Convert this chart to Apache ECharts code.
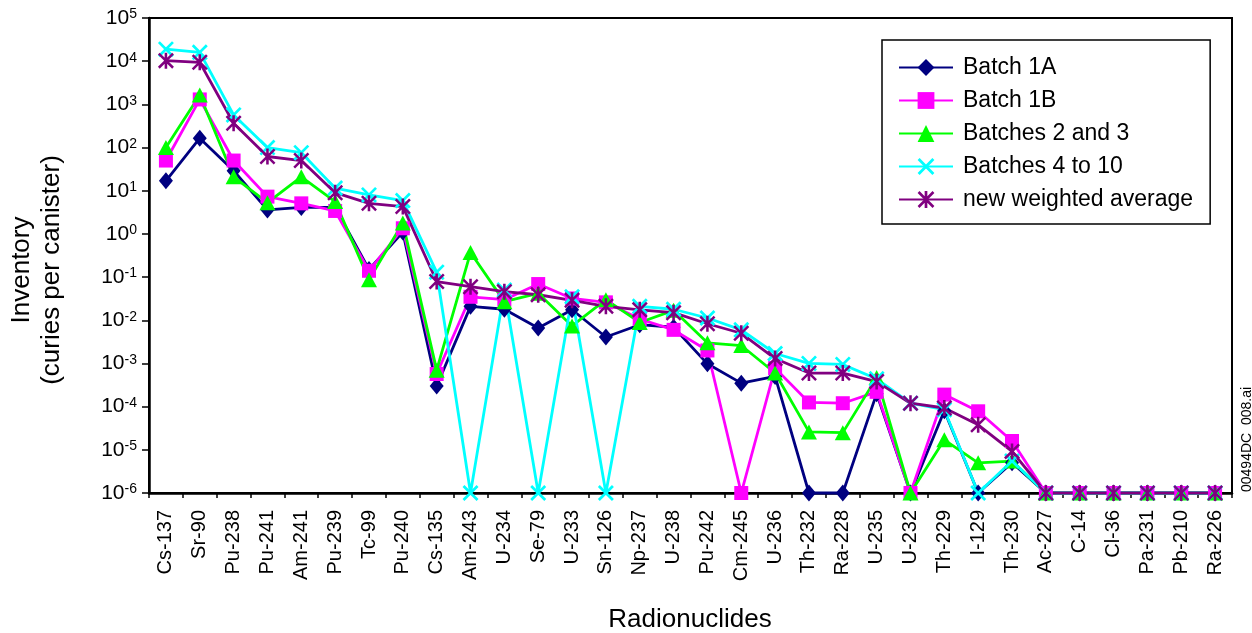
<!DOCTYPE html>
<html>
<head>
<meta charset="utf-8">
<script src="https://cdn.jsdelivr.net/npm/echarts@6/dist/echarts.min.js"></script>
<style>
html,body{margin:0;padding:0;background:#fff;}
#chart{width:1252px;height:633px;}
</style>
</head>
<body>
<div id="chart"></div>
<script>
const categories = ['Cs-137','Sr-90','Pu-238','Pu-241','Am-241','Pu-239','Tc-99','Pu-240','Cs-135','Am-243','U-234','Se-79','U-233','Sn-126','Np-237','U-238','Pu-242','Cm-245','U-236','Th-232','Ra-228','U-235','U-232','Th-229','I-129','Th-230','Ac-227','C-14','Cl-36','Pa-231','Pb-210','Ra-226'];

const batch1A = [17,165,29,3.6,4.1,4.1,0.15,1.1,3.0e-4,0.021,0.018,0.0066,0.0175,0.0041,0.0079,0.0069,0.00098,3.5e-4,5e-4,1e-6,1e-6,2e-4,1e-6,8e-5,1e-6,5e-6,1e-6,1e-6,1e-6,1e-6,1e-6,1e-6];
const batch1B = [50,1300,50,7.3,5.1,3.4,0.14,1.35,5.7e-4,0.035,0.03,0.069,0.032,0.026,0.0107,0.006,0.002,1e-6,7.8e-4,1.25e-4,1.2e-4,2.2e-4,1e-6,1.9e-4,7.8e-5,1.6e-5,1e-6,1e-6,1e-6,1e-6,1e-6,1e-6];
const batches2and3 = [100,1650,21,5.3,21,5.6,0.087,1.8,7e-4,0.37,0.027,0.042,0.0074,0.03,0.0089,0.017,0.003,0.0026,6e-4,2.6e-5,2.5e-5,4.7e-4,1e-6,1.7e-5,5e-6,5.5e-6,1e-6,1e-6,1e-6,1e-6,1e-6,1e-6];
const batches4to10 = [1.9e4,1.6e4,570,100,76,11.5,8,5.9,0.13,1e-6,0.05,1e-6,0.035,1e-6,0.021,0.018,0.0113,0.006,0.0017,1e-3,9.5e-4,4.4e-4,1.2e-4,8.5e-5,1e-6,5.5e-6,1e-6,1e-6,1e-6,1e-6,1e-6,1e-6];
const weightedAvg = [1.03e4,9.4e3,365,62,50,9,5.1,4.3,0.079,0.06,0.046,0.039,0.029,0.021,0.0175,0.015,0.0083,0.005,0.0013,6e-4,6e-4,3.8e-4,1.2e-4,9.3e-5,3.8e-5,9.2e-6,1e-6,1e-6,1e-6,1e-6,1e-6,1e-6];

const seriesNames = ['Batch 1A','Batch 1B','Batches 2 and 3','Batches 4 to 10','new weighted average'];
const yMin = 1e-6, yMax = 1e5;

const FONT = '"Liberation Sans", Arial, Helvetica, sans-serif';
const X_PATH = 'path://M0,12 L12,0 L100,88 L88,100 Z M88,0 L100,12 L12,100 L0,88 Z';
const STAR_PATH = 'path://M0,11 L11,0 L100,89 L89,100 Z M89,0 L100,11 L11,100 L0,89 Z M42,0 L58,0 L58,100 L42,100 Z';

function mkSeries(name, data, color, symbol, size) {
  return {
    name: name, type: 'line', data: data,
    symbol: symbol, symbolSize: size, symbolKeepAspect: true,
    showAllSymbol: true,
    lineStyle: {color: color, width: 2.8},
    itemStyle: {color: color, borderColor: color, borderWidth: 0},
    emphasis: {disabled: true},
    clip: false
  };
}

const chart = echarts.init(document.getElementById('chart'), null, {renderer: 'canvas'});
chart.setOption({
  animation: false,
  backgroundColor: '#fff',
  grid: {left: 149, right: 20, top: 18, bottom: 140, show: true, borderColor: '#000', borderWidth: 2, containLabel: false},
  legend: {
    orient: 'vertical', left: 882, top: 40,
    data: seriesNames,
    itemWidth: 54, itemHeight: 21, itemGap: 10,
    padding: [16, 17, 13, 16],
    borderColor: '#000', borderWidth: 1.5,
    backgroundColor: '#fff',
    textStyle: {fontFamily: FONT, fontSize: 23, lineHeight: 23, color: '#000', padding: [0,0,0,5]},
    selectedMode: false
  },
  xAxis: {
    type: 'category', data: categories, boundaryGap: true,
    axisLine: {lineStyle: {color: '#000', width: 2.5}},
    axisTick: {show: true, length: 5, lineStyle: {color: '#000', width: 1.5}, interval: 0},
    axisLabel: {rotate: 90, interval: 0, fontFamily: FONT, fontSize: 20, color: '#000', margin: 17},
    splitLine: {show: false}
  },
  yAxis: {
    type: 'log', logBase: 10, min: yMin, max: yMax, interval: 1,
    axisLine: {show: true, lineStyle: {color: '#000', width: 2.5}},
    axisTick: {show: true, length: 7, lineStyle: {color: '#000', width: 1.5}},
    minorTick: {show: false},
    splitLine: {show: false},
    axisLabel: {
      margin: 12,
      formatter: function (v) {
        const e = Math.round(Math.log10(v));
        return '{n|10}{s|' + e + '}';
      },
      rich: {
        n: {fontFamily: FONT, fontSize: 21, color: '#000', lineHeight: 21, verticalAlign: 'bottom'},
        s: {fontFamily: FONT, fontSize: 14, color: '#000', lineHeight: 14, verticalAlign: 'top', padding: [0, 0, 12, 0]}
      }
    }
  },
  series: [
    mkSeries(seriesNames[0], batch1A, '#000080', 'diamond', [14, 17]),
    mkSeries(seriesNames[1], batch1B, '#FF00FF', 'rect', [14, 14]),
    mkSeries(seriesNames[2], batches2and3, '#00FF00', 'triangle', [16, 15]),
    mkSeries(seriesNames[3], batches4to10, '#00FFFF', X_PATH, [16, 16]),
    mkSeries(seriesNames[4], weightedAvg, '#800080', STAR_PATH, [16, 16])
  ],
  graphic: [
    {type: 'text', x: 37, y: 270, rotation: Math.PI / 2,
     style: {text: 'Inventory\n(curies per canister)', fontFamily: FONT, fontSize: 26, lineHeight: 30, fill: '#000', align: 'center', verticalAlign: 'middle'}},
    {type: 'text', x: 690, y: 620,
     style: {text: 'Radionuclides', fontFamily: FONT, fontSize: 26, fill: '#000', align: 'center', verticalAlign: 'middle'}},
    {type: 'text', x: 1247, y: 492, rotation: Math.PI / 2,
     style: {text: '00494DC  008.ai', fontFamily: FONT, fontSize: 14, fill: '#000', align: 'left', verticalAlign: 'middle'}}
  ]
});
</script>
</body>
</html>
